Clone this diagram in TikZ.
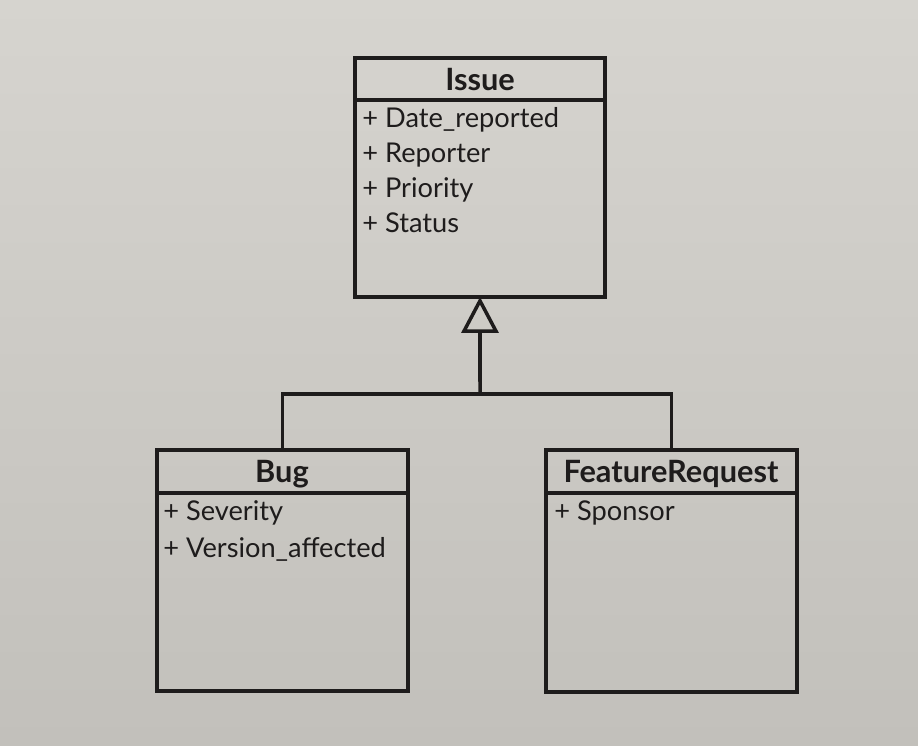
\documentclass[tikz,border=0pt]{standalone}
\usepackage{fontspec}
\setmainfont{Lato}
\usetikzlibrary{arrows.meta}

\definecolor{pagetop}{RGB}{214,212,207}
\definecolor{pagebot}{RGB}{194,192,187}
\definecolor{ink}{RGB}{30,28,28}

\begin{document}
\begin{tikzpicture}[x=0.02cm,y=-0.02cm,
    classbox/.style={draw=ink, line width=2.2pt, rectangle, anchor=north west, outer sep=0pt, inner sep=0pt, minimum width=5.02cm},
    classname/.style={anchor=base, text=ink, font=\fontsize{17.5}{20}\selectfont\bfseries, inner sep=0pt},
    attr/.style={anchor=base west, text=ink, font=\fontsize{15.5}{18}\selectfont, inner sep=0pt},
    link/.style={draw=ink, line width=2pt}]

    \shade[top color=pagetop, bottom color=pagebot] (0,0) rectangle (918,745);
    \useasboundingbox (0,0) rectangle (918,745);

    % Issue
    \node[classbox, minimum width=5cm, minimum height=4.78cm] (issue) at (355,58) {};
    \draw[link, line width=2.2pt] (355,100) -- (605,100);
    \node[classname] (issuename) at (480,90) {Issue};
    \node[attr] (date) at (362,127) {+ Date\_reported};
    \node[attr] (reporter) at (362,162) {+ Reporter};
    \node[attr] (priority) at (362,197) {+ Priority};
    \node[attr] (status) at (362,232) {+ Status};

    % Bug
    \node[classbox, minimum height=4.82cm] (bug) at (157,450) {};
    \draw[link, line width=2.2pt] (157,493) -- (408,493);
    \node[classname] (bugname) at (282,482) {Bug};
    \node[attr] (severity) at (163,520) {+ Severity};
    \node[attr] (version) at (163,557) {+ Version\_affected};

    % FeatureRequest
    \node[classbox, minimum height=4.84cm] (feature) at (546,450) {};
    \draw[link, line width=2.2pt] (546,493) -- (797,493);
    \node[classname] (featurename) at (671,482) {FeatureRequest};
    \node[attr] (sponsor) at (554,520) {+ Sponsor};

    % generalisation
    \coordinate (split) at (480,394);
    \draw[link] (bug.north) -- (bug.north |- split) -- (feature.north |- split) -- (feature.north);
    \draw[link, -{Triangle[open, length=0.72cm, width=0.74cm, line width=2pt]}] (split) -- (issue.south);
\end{tikzpicture}
\end{document}
